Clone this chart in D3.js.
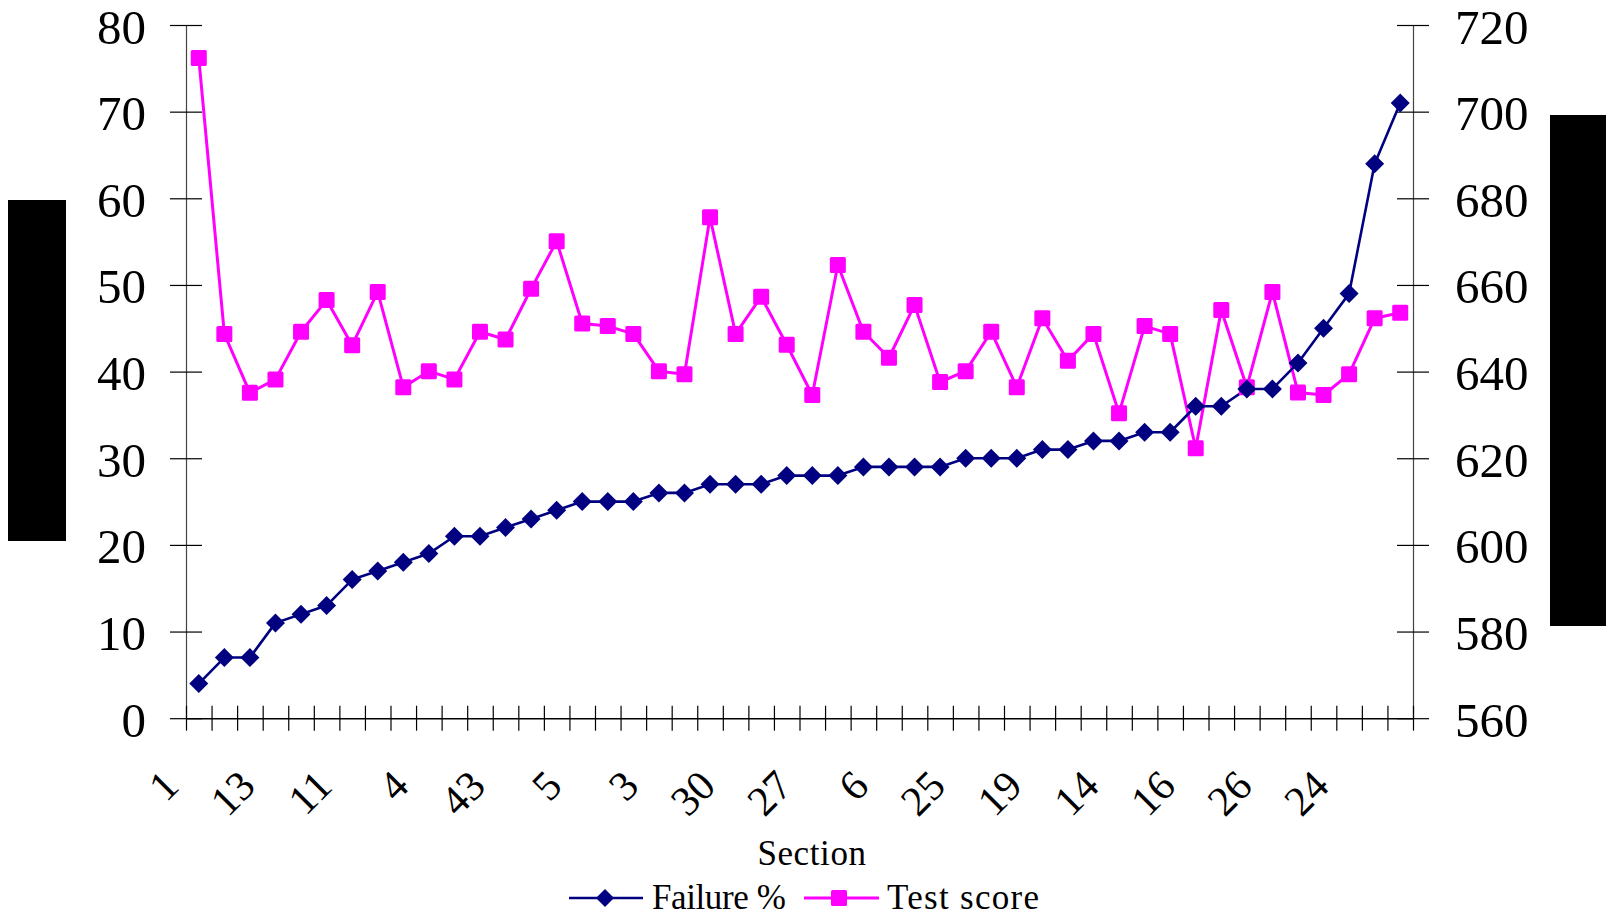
<!DOCTYPE html>
<html>
<head>
<meta charset="utf-8">
<script src="https://cdn.jsdelivr.net/npm/d3@7"></script>
<style>
  html, body { margin: 0; padding: 0; background: #fff; }
  svg { display: block; }
  text { font-family: "Liberation Serif", "Times New Roman", serif; fill: #000; }
</style>
</head>
<body>
<svg id="chart" width="1606" height="916"></svg>
<script>
// Sections, ordered by failure rate; only every third section is labelled on the axis
const sectionCount = 48;
const sectionTickLabels = ["1", "13", "11", "4", "43", "5", "3", "30", "27", "6", "25", "19", "14", "16", "26", "24"];

// Failure % per section (left axis)
const failurePct = [4, 7, 7, 11, 12, 13, 16, 17, 18, 19, 21, 21, 22, 23, 24, 25,
  25, 25, 26, 26, 27, 27, 27, 28, 28, 28, 29, 29, 29, 29, 30, 30,
  30, 31, 31, 32, 32, 33, 33, 36, 36, 38, 38, 41, 45, 49, 64, 71];

// Mean test score per section (right axis)
const testScore = [712.4, 648.7, 635.1, 638.2, 649.2, 656.5, 646.1, 658.4, 636.4, 640.1, 638.2, 649.2, 647.4, 659.1, 670.1, 651.1,
  650.5, 648.7, 640.1, 639.4, 675.6, 648.7, 657.3, 646.2, 634.6, 664.6, 649.2, 643.2, 655.4, 637.6, 640.1, 649.2,
  636.4, 652.3, 642.5, 648.7, 630.4, 650.5, 648.7, 622.3, 654.2, 636.4, 658.4, 635.2, 634.6, 639.4, 652.3, 653.6];

const leftTicks = [0, 10, 20, 30, 40, 50, 60, 70, 80];
const rightTicks = [560, 580, 600, 620, 640, 660, 680, 700, 720];

const seriesNames = ["Failure %", "Test score"];
const xTitle = "Section";

const NAVY = "#000080", MAGENTA = "#FF00FF";
const plot = { left: 186, right: 1413, top: 25, bottom: 718.2 };

const svg = d3.select("#chart");

const idx = d3.range(sectionCount);
const x = d3.scaleBand().domain(idx).range([plot.left, plot.right]).padding(0);
const xEdge = d3.scaleLinear().domain([0, sectionCount]).range([plot.left, plot.right]);
const yL = d3.scaleLinear().domain([0, 80]).range([plot.bottom, plot.top]);
const yR = d3.scaleLinear().domain([560, 720]).range([plot.bottom, plot.top]);
const cx = i => x(i) + x.bandwidth() / 2;

// Redacted axis titles (solid blocks)
svg.append("rect").attr("x", 8).attr("y", 200).attr("width", 58).attr("height", 341).attr("fill", "#000");
svg.append("rect").attr("x", 1550).attr("y", 115).attr("width", 56).attr("height", 511).attr("fill", "#000");

// Left axis
const gL = svg.append("g").attr("transform", `translate(${plot.left},0)`)
  .call(d3.axisLeft(yL).tickValues(leftTicks).tickSize(0).tickPadding(0).tickFormat(""));
gL.select(".domain").attr("stroke", "#444").attr("stroke-width", 1.2);
gL.selectAll(".tick line").attr("x1", -16).attr("x2", 16).attr("stroke", "#000").attr("stroke-width", 1.2);
gL.selectAll(".tick").append("text")
  .attr("x", -40).attr("y", 18).attr("text-anchor", "end")
  .style("font-size", "49px").text(d => d);

// Right axis
const gR = svg.append("g").attr("transform", `translate(${plot.right},0)`)
  .call(d3.axisRight(yR).tickValues(rightTicks).tickSize(0).tickPadding(0).tickFormat(""));
gR.select(".domain").attr("stroke", "#444").attr("stroke-width", 1.2);
gR.selectAll(".tick line").attr("x1", -16).attr("x2", 16).attr("stroke", "#000").attr("stroke-width", 1.2);
gR.selectAll(".tick").append("text")
  .attr("x", 42).attr("y", 18).attr("text-anchor", "start")
  .style("font-size", "49px").text(d => d);

// Bottom axis: cross ticks at section boundaries
const gB = svg.append("g").attr("transform", `translate(0,${plot.bottom})`)
  .call(d3.axisBottom(xEdge).tickValues(d3.range(sectionCount + 1)).tickSize(0).tickFormat(""));
gB.select(".domain").attr("stroke", "#000").attr("stroke-width", 1.4);
gB.selectAll(".tick line").attr("y1", -12.5).attr("y2", 12.5).attr("stroke", "#000").attr("stroke-width", 1.2);

// Section labels, rotated
const labelled = idx.filter(i => i % 3 === 0);
const gX = svg.append("g").attr("transform", `translate(0,${plot.bottom})`)
  .call(d3.axisBottom(x).tickValues(labelled).tickSize(0)
    .tickFormat(i => sectionTickLabels[i / 3]));
gX.select(".domain").remove();
gX.selectAll(".tick text")
  .attr("x", 0).attr("y", 0).attr("dy", 0)
  .attr("text-anchor", "end")
  .attr("transform", "translate(-18,70) rotate(-45)")
  .style("font-size", "42px");

// Axis title
svg.append("text").attr("x", 812).attr("y", 865).attr("text-anchor", "middle")
  .style("font-size", "35px").style("letter-spacing", "0.6px").text(xTitle);

// Series lines
const lineL = d3.line().x((d, i) => cx(i)).y(d => yL(d));
const lineR = d3.line().x((d, i) => cx(i)).y(d => yR(d));

svg.append("path").datum(testScore).attr("d", lineR)
  .attr("fill", "none").attr("stroke", MAGENTA).attr("stroke-width", 3).attr("stroke-linejoin", "round");
svg.append("path").datum(failurePct).attr("d", lineL)
  .attr("fill", "none").attr("stroke", NAVY).attr("stroke-width", 2.6).attr("stroke-linejoin", "round");

// Markers
const diamond = (px, py, r) => `M${px},${py - r}L${px + r},${py}L${px},${py + r}L${px - r},${py}Z`;
const sq = 16;

svg.append("g").selectAll("rect").data(testScore).join("rect")
  .attr("x", (d, i) => cx(i) - sq / 2).attr("y", d => yR(d) - sq / 2)
  .attr("width", sq).attr("height", sq).attr("rx", 1.5)
  .attr("fill", MAGENTA);

svg.append("g").selectAll("path").data(failurePct).join("path")
  .attr("d", (d, i) => diamond(cx(i), yL(d), 9.5))
  .attr("fill", NAVY);

// Legend
const lg = svg.append("g");
const legendY = 898;
lg.append("line").attr("x1", 569).attr("x2", 643).attr("y1", legendY).attr("y2", legendY)
  .attr("stroke", NAVY).attr("stroke-width", 2.6);
lg.append("path").attr("d", diamond(605, legendY, 9)).attr("fill", NAVY);
lg.append("text").attr("x", 652).attr("y", 909).style("font-size", "35px").style("letter-spacing", "-0.4px").text(seriesNames[0]);

lg.append("line").attr("x1", 804).attr("x2", 879).attr("y1", legendY).attr("y2", legendY)
  .attr("stroke", MAGENTA).attr("stroke-width", 3);
lg.append("rect").attr("x", 839 - 8).attr("y", legendY - 8).attr("width", 16).attr("height", 16).attr("rx", 1.5).attr("fill", MAGENTA);
lg.append("text").attr("x", 887).attr("y", 909).style("font-size", "35px").style("letter-spacing", "1.3px").text(seriesNames[1]);
</script>
</body>
</html>
